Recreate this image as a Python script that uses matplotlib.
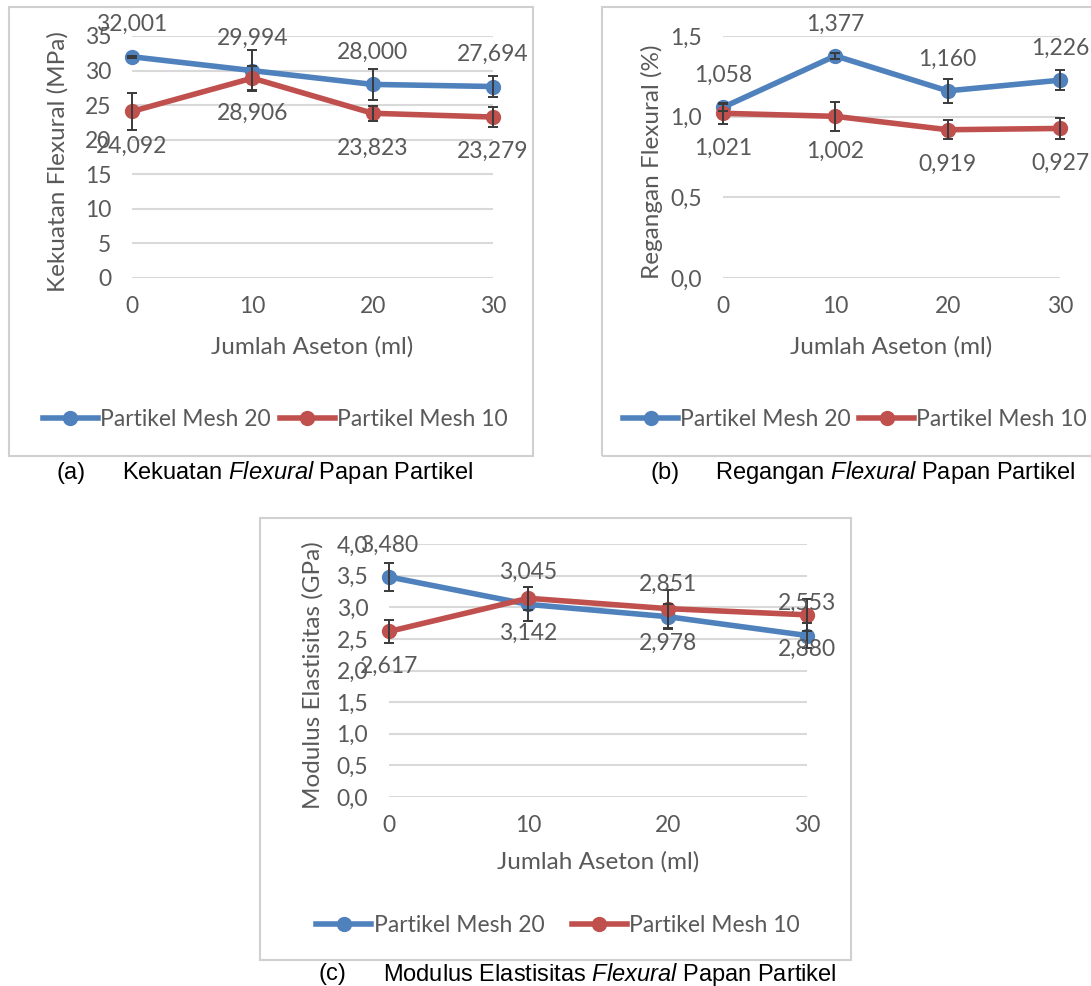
import matplotlib.pyplot as plt
from matplotlib.patches import Rectangle

aseton = [0, 10, 20, 30]

kekuatan_mesh20 = [32.001, 29.994, 28.000, 27.694]
kekuatan_mesh10 = [24.092, 28.906, 23.823, 23.279]
kekuatan_err20 = [0.15, 3.0, 2.2, 1.5]
kekuatan_err10 = [2.65, 1.7, 1.1, 1.4]

regangan_mesh20 = [1.058, 1.377, 1.160, 1.226]
regangan_mesh10 = [1.021, 1.002, 0.919, 0.927]
regangan_err20 = [0.02, 0.02, 0.073, 0.063]
regangan_err10 = [0.064, 0.088, 0.06, 0.067]

modulus_mesh20 = [3.480, 3.045, 2.851, 2.553]
modulus_mesh10 = [2.617, 3.142, 2.978, 2.880]
modulus_err20 = [0.22, 0.27, 0.2, 0.2]
modulus_err10 = [0.18, 0.18, 0.3, 0.25]

W, H = 1091, 986
BLUE = "#4F81BD"
RED = "#C0504D"
GRAY = "#595959"
plt.rcParams['font.family'] = ['Lato', 'DejaVu Sans']
plt.rcParams['mathtext.fontset'] = 'custom'
plt.rcParams['mathtext.rm'] = 'Liberation Sans'
plt.rcParams['mathtext.it'] = 'Liberation Sans:italic'


def fx(px):
    return px / W


def fy(py):
    return 1 - py / H


def comma(v, nd):
    return f"{v:.{nd}f}".replace('.', ',')


def panel(fig, box, area, mesh20, mesh10, err20, err10, ymax, ystep, ynd,
          ylabel, ylab_x, xlab_y, leg_xy, colspace, caption, cap_x, cap_y):
    x0, y0, x1, y1 = box
    fig.patches.append(Rectangle((fx(x0), fy(y1)), fx(x1 - x0), (y1 - y0) / H,
                                 transform=fig.transFigure, fill=False,
                                 edgecolor="#d0d0d0", lw=1.5))
    l, t, r, b = area
    ax = fig.add_axes([fx(l), fy(b), fx(r - l), (b - t) / H])
    ax.plot(aseton, mesh20, color=BLUE, lw=4, marker='o', ms=10,
            label="Partikel Mesh 20", clip_on=False, zorder=3)
    ax.plot(aseton, mesh10, color=RED, lw=4, marker='o', ms=10,
            label="Partikel Mesh 10", clip_on=False, zorder=3)
    ax.errorbar(aseton, mesh20, yerr=err20, fmt='none', ecolor="#3a3a3a",
                elinewidth=1.4, capsize=3.5, capthick=1.4, zorder=4, clip_on=False)
    ax.errorbar(aseton, mesh10, yerr=err10, fmt='none', ecolor="#3a3a3a",
                elinewidth=1.4, capsize=3.5, capthick=1.4, zorder=4, clip_on=False)
    for xv, v in zip(aseton, mesh20):
        ax.annotate(comma(v, 3), (xv, v), xytext=(0, 23), textcoords='offset points',
                    ha='center', va='center', fontsize=16.5, color=GRAY, zorder=5)
    for xv, v in zip(aseton, mesh10):
        ax.annotate(comma(v, 3), (xv, v), xytext=(0, -25), textcoords='offset points',
                    ha='center', va='center', fontsize=16.5, color=GRAY, zorder=5)

    ax.set_xlim(0, 30)
    ax.set_ylim(0, ymax)
    ax.set_xticks(aseton)
    ax.set_xticklabels([str(a) for a in aseton])
    yt = [i * ystep for i in range(int(round(ymax / ystep)) + 1)]
    ax.set_yticks(yt)
    ax.set_yticklabels([comma(v, ynd) for v in yt])
    ax.tick_params(length=0, labelsize=16.5, labelcolor=GRAY)
    ax.tick_params(axis='x', pad=13)
    ax.tick_params(axis='y', pad=15)
    ax.grid(axis='y', color="#d9d9d9", lw=1.5)
    ax.set_axisbelow(True)
    for s in ax.spines.values():
        s.set_visible(False)

    fig.text(fx(ylab_x), fy((t + b) / 2 + 5), ylabel, rotation=90, ha='center',
             va='center', fontsize=17.5, color=GRAY)
    fig.text(fx((l + r) / 2), fy(xlab_y), "Jumlah Aseton (ml)", ha='center',
             va='center', fontsize=17.5, color=GRAY)
    leg = ax.legend(loc='center', bbox_to_anchor=(fx(leg_xy[0]), fy(leg_xy[1])),
                    bbox_transform=fig.transFigure, ncol=2, frameon=False,
                    fontsize=16.5, handlelength=2.4, handletextpad=0.1,
                    columnspacing=colspace)
    for txt in leg.get_texts():
        txt.set_color(GRAY)

    fig.text(fx(cap_x), fy(cap_y), caption[0], ha='left', va='center',
             fontsize=17, family='Liberation Sans')
    fig.text(fx(cap_x + 65), fy(cap_y), caption[1], ha='left', va='center',
             fontsize=17, family='Liberation Sans')


def main():
    fig = plt.figure(figsize=(W / 100, H / 100), dpi=100)

    panel(fig, (9, 7, 533, 456), (132, 36, 493, 278),
          kekuatan_mesh20, kekuatan_mesh10, kekuatan_err20, kekuatan_err10,
          35, 5, 0, "Kekuatan Flexural (MPa)", 58, 347, (275, 420), 0.4,
          ("(a)", r"Kekuatan $\it{Flexural}$ Papan Partikel"), 57, 473)

    panel(fig, (602, 7, 1130, 456), (723, 36, 1060, 278),
          regangan_mesh20, regangan_mesh10, regangan_err20, regangan_err10,
          1.5, 0.5, 1, "Regangan Flexural (%)", 652, 347, (855, 420), 0.35,
          ("(b)", r"Regangan $\it{Flexural}$ Papan Partikel"), 650, 473)

    panel(fig, (260, 518, 851, 960), (389, 544, 807, 797),
          modulus_mesh20, modulus_mesh10, modulus_err20, modulus_err10,
          4.0, 0.5, 1, "Modulus Elastisitas (GPa)", 313, 862, (558, 926), 1.2,
          ("(c)", r"Modulus Elastisitas $\it{Flexural}$ Papan Partikel"), 318, 974)

    fig.savefig("out.png", dpi=100)


if __name__ == "__main__":
    main()
